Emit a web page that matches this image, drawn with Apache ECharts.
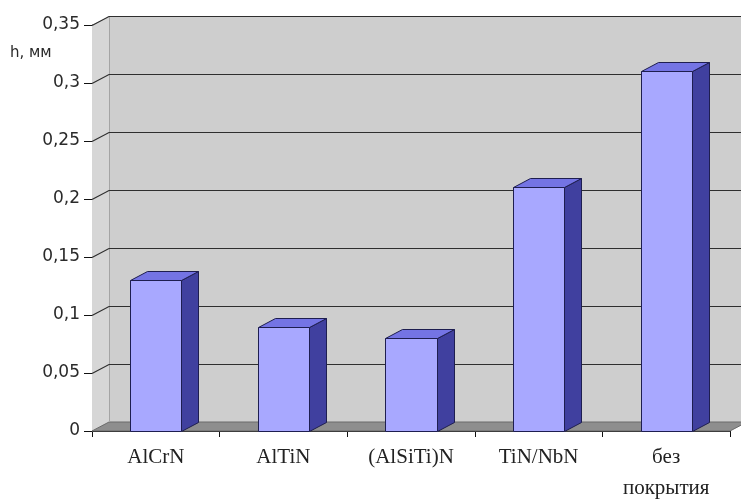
<!DOCTYPE html>
<html>
<head>
<meta charset="utf-8">
<script src="https://cdn.jsdelivr.net/npm/echarts@6/dist/echarts.min.js"></script>
<style>
  html, body { margin: 0; padding: 0; background: #ffffff; overflow: hidden; }
  #chart { width: 741px; height: 504px; }
</style>
</head>
<body>
<div id="chart"></div>
<script>
// Wear depth h (mm) by coating type
const categories = ['AlCrN', 'AlTiN', '(AlSiTi)N', 'TiN/NbN', 'без\nпокрытия'];
const wear = [0.13, 0.09, 0.08, 0.21, 0.31];
const yTicks = [0, 0.05, 0.1, 0.15, 0.2, 0.25, 0.3, 0.35];
const yUnit = 'h, мм';

// pseudo-3D depth offset (pixels)
const DX = 17, DY = -9;

const chart = echarts.init(document.getElementById('chart'), null, { renderer: 'canvas', width: 741, height: 504 });

function renderWalls(params, api) {
  const cs = params.coordSys;
  const left = cs.x, right = cs.x + cs.width;
  const y0 = api.coord([0, 0])[1];
  const yTop = api.coord([0, yTicks[yTicks.length - 1]])[1];
  const children = [];
  // back wall
  children.push({
    type: 'rect',
    shape: { x: left + DX, y: yTop + DY, width: right - left, height: y0 - yTop },
    style: { fill: '#cecece', stroke: null }
  });
  // side wall
  children.push({
    type: 'polygon',
    shape: { points: [[left, yTop], [left + DX, yTop + DY], [left + DX, y0 + DY], [left, y0]] },
    style: { fill: '#d6d6d6', stroke: null }
  });
  // floor
  children.push({
    type: 'polygon',
    shape: { points: [[left, y0], [left + DX, y0 + DY], [right + DX, y0 + DY], [right, y0]] },
    style: { fill: '#8e8e8e', stroke: '#6a6a6a', lineWidth: 1 }
  });
  // edge between side wall and back wall
  children.push({
    type: 'line',
    shape: { x1: left + DX + 0.5, y1: yTop + DY, x2: left + DX + 0.5, y2: y0 + DY },
    style: { stroke: '#a4a4a4', lineWidth: 1 }
  });
  // gridlines running over the side wall and the back wall
  yTicks.forEach(function (t) {
    if (t === 0) return;
    const y = Math.round(api.coord([0, t])[1]) + 0.5;
    children.push({
      type: 'polyline',
      shape: { points: [[left, y], [left + DX, y + DY], [right + DX, y + DY]] },
      style: { stroke: '#2e2e2e', lineWidth: 1.2, fill: null }
    });
  });
  return { type: 'group', children: children };
}

function renderBar(params, api) {
  const idx = api.value(0);
  const v = api.value(1);
  const top = api.coord([idx, v]);
  const base = api.coord([idx, 0]);
  const bw = api.size([1, 0])[0] * 0.4;
  const xl = Math.round(top[0] - bw / 2) + 0.5;
  const xr = Math.round(top[0] + bw / 2) + 0.5;
  const yt = Math.round(top[1]) + 0.5;
  const yb = Math.round(base[1]) + 0.5;
  const edge = '#1e1e50';
  return {
    type: 'group',
    children: [
      {
        type: 'polygon',
        shape: { points: [[xr, yt], [xr + DX, yt + DY], [xr + DX, yb + DY], [xr, yb]] },
        style: { fill: '#40409f', stroke: edge, lineWidth: 1 }
      },
      {
        type: 'polygon',
        shape: { points: [[xl, yt], [xl + DX, yt + DY], [xr + DX, yt + DY], [xr, yt]] },
        style: { fill: '#7474e4', stroke: edge, lineWidth: 1 }
      },
      {
        type: 'rect',
        shape: { x: xl, y: yt, width: xr - xl, height: yb - yt },
        style: { fill: '#a8a8ff', stroke: edge, lineWidth: 1 }
      }
    ]
  };
}

const option = {
  animation: false,
  backgroundColor: '#ffffff',
  grid: { left: 92, width: 638, top: 25, height: 416, containLabel: false },
  xAxis: {
    type: 'category',
    data: categories,
    boundaryGap: true,
    axisLine: { show: true, lineStyle: { color: '#111', width: 1 } },
    axisTick: { show: true, length: 6, inside: false, alignWithLabel: false, lineStyle: { color: '#111' } },
    axisLabel: {
      interval: 0,
      margin: 11,
      color: '#222',
      fontFamily: '"Liberation Serif", "DejaVu Serif", serif',
      fontSize: 21,
      lineHeight: 31,
      align: 'center'
    },
    splitLine: { show: false }
  },
  yAxis: {
    type: 'value',
    min: yTicks[0],
    max: yTicks[yTicks.length - 1],
    interval: 0.05,
    axisLine: { show: true, lineStyle: { color: '#111', width: 1 } },
    axisTick: { show: true, length: 8, lineStyle: { color: '#111' } },
    axisLabel: {
      margin: 12,
      color: '#2a2a2a',
      fontFamily: '"DejaVu Sans", Verdana, sans-serif',
      fontSize: 17,
      formatter: function (v) { return String(+v.toFixed(2)).replace('.', ','); }
    },
    splitLine: { show: false }
  },
  graphic: [
    {
      type: 'text',
      left: 10,
      top: 46,
      style: {
        text: yUnit,
        fill: '#2a2a2a',
        font: '15px "DejaVu Sans", Verdana, sans-serif'
      }
    }
  ],
  series: [
    {
      type: 'custom',
      name: 'walls',
      clip: false,
      silent: true,
      z: 1,
      renderItem: renderWalls,
      data: [[0, 0]]
    },
    {
      type: 'custom',
      name: 'h',
      clip: false,
      z: 3,
      renderItem: renderBar,
      encode: { x: 0, y: 1 },
      data: wear.map(function (v, i) { return [i, v]; })
    }
  ]
};

chart.setOption(option);
</script>
</body>
</html>
